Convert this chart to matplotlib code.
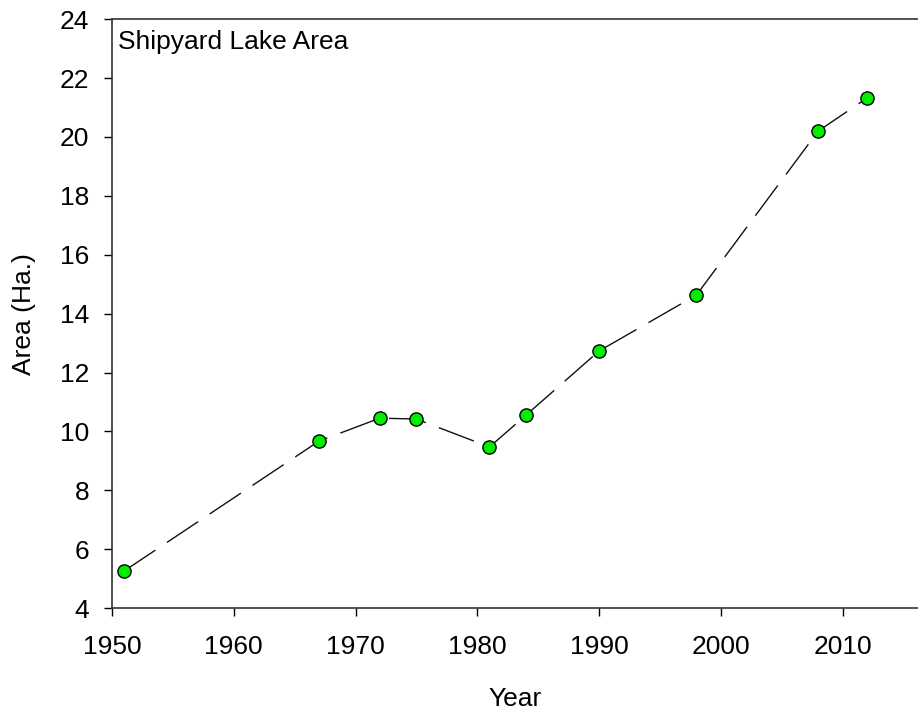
import matplotlib.pyplot as plt

plt.rcParams['font.family'] = ['Liberation Sans', 'DejaVu Sans']

# Shipyard Lake area by survey year
years = [1951, 1967, 1972, 1975, 1981, 1984, 1990, 1998, 2008, 2012]
area = [5.26, 9.67, 10.45, 10.42, 9.47, 10.55, 12.73, 14.63, 20.2, 21.32]

xticks = [1950, 1960, 1970, 1980, 1990, 2000, 2010]
yticks = [4, 6, 8, 10, 12, 14, 16, 18, 20, 22, 24]

fig = plt.figure(figsize=(9.18, 7.12), dpi=100)
ax = fig.add_axes([0.122, 0.146, 0.878, 0.827])

ax.plot(years, area, color='#111111', lw=1, dashes=(27, 10),
        marker='o', markersize=9.5, markerfacecolor='#00ee00',
        markeredgecolor='black', markeredgewidth=1)

ax.set_xlim(1950, 2016.2)
ax.set_ylim(4, 24)
ax.set_xticks(xticks)
ax.set_yticks(yticks)
ax.tick_params(direction='out', length=5.5, width=1, labelsize=19)
ax.tick_params(axis='x', pad=14)
ax.tick_params(axis='y', pad=11)
ax.spines['right'].set_visible(False)
for s in ['left', 'bottom', 'top']:
    ax.spines[s].set_linewidth(1.2)
    ax.spines[s].set_color('#333333')

ax.set_xlabel('Year', fontsize=19, labelpad=20)
ax.set_ylabel('Area (Ha.)', fontsize=19, labelpad=17)
ax.text(0.008, 0.982, 'Shipyard Lake Area', transform=ax.transAxes,
        fontsize=19, va='top', ha='left')

fig.savefig('out.png', dpi=100)
